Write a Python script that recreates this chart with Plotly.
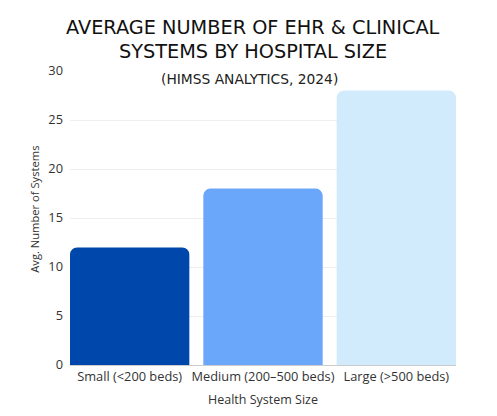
import plotly.graph_objects as go

# data
sizes = ["Small (<200 beds)", "Medium (200–500 beds)", "Large (>500 beds)"]
avg_systems = [12, 18, 28]
bar_colors = ["#0047AB", "#6AA6FA", "#D1EBFD"]
y_ticks = [0, 5, 10, 15, 20, 25, 30]

FONT = "Open Sans, Lato, sans-serif"
TITLE_FONT = "DejaVu Sans, Open Sans, sans-serif"
GAP = 0.105

fig = go.Figure()
fig.add_trace(go.Bar(
    x=sizes,
    y=avg_systems,
    marker=dict(color=bar_colors, line=dict(width=0)),
    hoverinfo="x+y",
))

# page body adds an 8px margin, so the figure is drawn 8px smaller
fig.update_layout(
    width=489,
    height=408,
    margin=dict(l=62, r=41, t=63, b=51),
    paper_bgcolor="white",
    plot_bgcolor="white",
    font=dict(family=FONT, color="#333333", size=12),
    bargap=GAP,
    barcornerradius=7,
    showlegend=False,
)

# title lines and subtitle as annotations so they sit where the reference has them
title_lines = ["AVERAGE NUMBER OF EHR & CLINICAL", "SYSTEMS BY HOSPITAL SIZE"]
for line, shift in zip(title_lines, [44, 20]):
    fig.add_annotation(
        text=line, xref="paper", yref="paper",
        x=0.474, y=1.0, yanchor="middle", yshift=shift,
        showarrow=False,
        font=dict(family=TITLE_FONT, size=19.3, color="#111111"),
    )

fig.add_annotation(
    text="(HIMSS ANALYTICS, 2024)",
    xref="paper", yref="paper",
    x=0.464, y=1.0, yanchor="middle", yshift=-8,
    showarrow=False,
    font=dict(family=TITLE_FONT, size=13.8, color="#222222"),
)

# y title sits a little above the plot centre in the reference
fig.add_annotation(
    text="Avg. Number of Systems",
    xref="paper", yref="paper",
    x=-0.091, y=0.531, xanchor="center", yanchor="middle",
    textangle=-90, showarrow=False,
    font=dict(family=FONT, size=11.2, color="#333333"),
)

fig.update_xaxes(
    title_text="Health System Size",
    title_font=dict(size=12.5),
    title_standoff=10,
    tickfont=dict(size=12.8),
    range=[-0.5 + GAP / 2, len(sizes) - 0.5 - GAP / 2],
    showline=True, linecolor="#cccccc", linewidth=1,
    ticks="",
)
fig.update_yaxes(
    tickfont=dict(size=12.8),
    ticklabelstandoff=6,
    range=[0, 30],
    tickvals=y_ticks,
    showgrid=True, gridcolor="#eeeeee",
    zeroline=False,
    ticks="", ticklen=0,
)

fig.write_html("out.html")
